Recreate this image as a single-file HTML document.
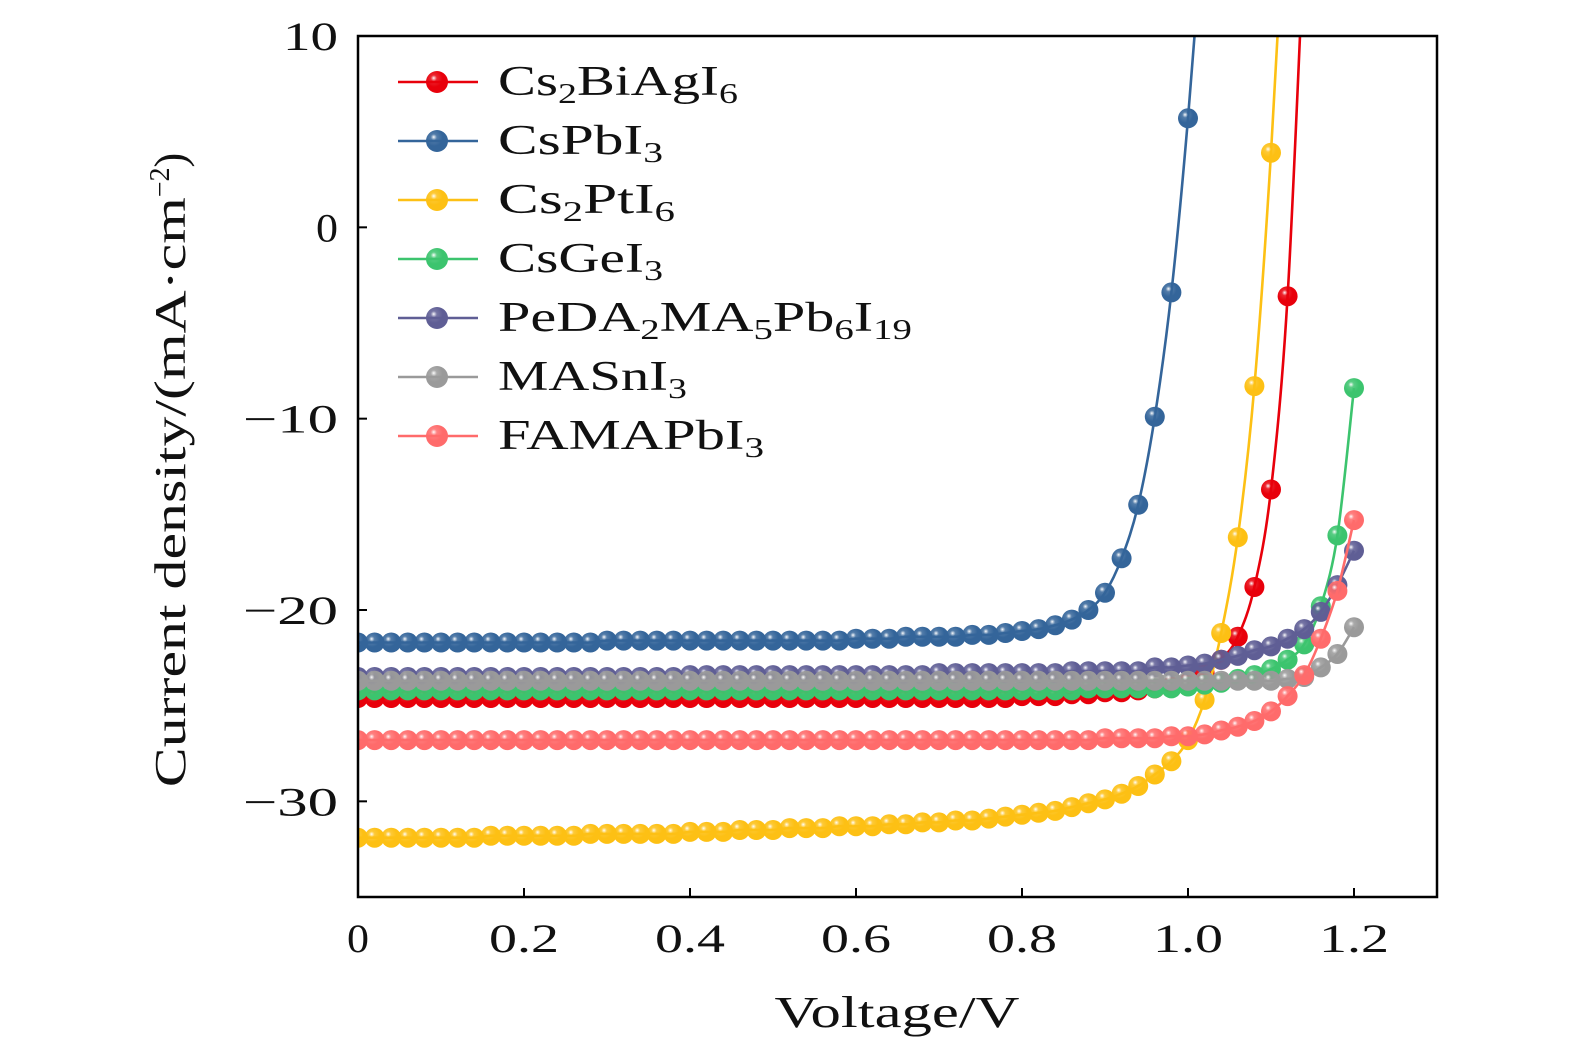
<!DOCTYPE html>
<html><head><meta charset="utf-8"><style>
html,body{margin:0;padding:0;background:#fff;overflow:hidden;}
svg{display:block;}
svg text{font-family:"Liberation Serif",serif;fill:#111;}
</style></head><body>
<svg id="chart" width="1575" height="1053" viewBox="0 0 1575 1053" xmlns="http://www.w3.org/2000/svg">
<defs>
<clipPath id="plotclip"><rect x="358" y="36" width="1079" height="861"/></clipPath>
</defs>
<g id="series" clip-path="url(#plotclip)"></g>
<g id="axes"></g>
<g id="legend"></g>
</svg>
<script>
const voltages = [];
for (let i = 0; i <= 60; i++) voltages.push(+(i*0.02).toFixed(2));
const seriesNames = ["Cs2BiAgI6","CsPbI3","Cs2PtI6","CsGeI3","PeDA2MA5Pb6I19","MASnI3","FAMAPbI3"];
const cs2biagi6 = [-24.6,-24.6,-24.6,-24.6,-24.6,-24.6,-24.6,-24.6,-24.6,-24.6,-24.6,-24.6,-24.6,-24.6,-24.6,-24.6,-24.6,-24.6,-24.6,-24.6,-24.6,-24.6,-24.6,-24.6,-24.6,-24.6,-24.6,-24.6,-24.6,-24.6,-24.6,-24.6,-24.6,-24.6,-24.6,-24.6,-24.6,-24.6,-24.6,-24.6,-24.5,-24.5,-24.5,-24.4,-24.4,-24.3,-24.3,-24.2,-24.1,-24.0,-23.8,-23.3,-22.6,-21.4,-18.8,-13.7,-3.6,15,null,null,null];
const cspbi3 = [-21.7,-21.7,-21.7,-21.7,-21.7,-21.7,-21.7,-21.7,-21.7,-21.7,-21.7,-21.7,-21.7,-21.7,-21.7,-21.6,-21.6,-21.6,-21.6,-21.6,-21.6,-21.6,-21.6,-21.6,-21.6,-21.6,-21.6,-21.6,-21.6,-21.6,-21.5,-21.5,-21.5,-21.4,-21.4,-21.4,-21.4,-21.3,-21.3,-21.2,-21.1,-21.0,-20.8,-20.5,-20.0,-19.1,-17.3,-14.5,-9.9,-3.4,5.7,17,null,null,null,null,null,null,null,null,null];
const cs2pti6 = [-31.9,-31.9,-31.9,-31.9,-31.9,-31.9,-31.9,-31.9,-31.8,-31.8,-31.8,-31.8,-31.8,-31.8,-31.7,-31.7,-31.7,-31.7,-31.7,-31.7,-31.6,-31.6,-31.6,-31.5,-31.5,-31.5,-31.4,-31.4,-31.4,-31.3,-31.3,-31.3,-31.2,-31.2,-31.1,-31.1,-31.0,-31.0,-30.9,-30.8,-30.7,-30.6,-30.5,-30.3,-30.1,-29.9,-29.6,-29.2,-28.6,-27.9,-26.8,-24.7,-21.2,-16.2,-8.3,3.9,20,null,null,null,null];
const csgei3 = [-24.2,-24.2,-24.2,-24.2,-24.2,-24.2,-24.2,-24.2,-24.2,-24.2,-24.2,-24.2,-24.2,-24.2,-24.2,-24.2,-24.2,-24.2,-24.2,-24.2,-24.2,-24.2,-24.2,-24.2,-24.2,-24.2,-24.2,-24.2,-24.2,-24.2,-24.2,-24.2,-24.2,-24.2,-24.2,-24.2,-24.2,-24.2,-24.2,-24.2,-24.2,-24.2,-24.2,-24.2,-24.1,-24.1,-24.1,-24.1,-24.1,-24.1,-24.0,-23.9,-23.8,-23.6,-23.4,-23.1,-22.6,-21.8,-19.8,-16.1,-8.4];
const peda = [-23.5,-23.5,-23.5,-23.5,-23.5,-23.5,-23.5,-23.5,-23.5,-23.5,-23.5,-23.5,-23.5,-23.5,-23.5,-23.5,-23.5,-23.5,-23.5,-23.5,-23.4,-23.4,-23.4,-23.4,-23.4,-23.4,-23.4,-23.4,-23.4,-23.4,-23.4,-23.4,-23.4,-23.4,-23.4,-23.3,-23.3,-23.3,-23.3,-23.3,-23.3,-23.3,-23.3,-23.2,-23.2,-23.2,-23.2,-23.2,-23.0,-23.0,-22.9,-22.8,-22.6,-22.4,-22.1,-21.9,-21.5,-21.0,-20.1,-18.7,-16.9];
const masni3 = [-23.7,-23.7,-23.7,-23.7,-23.7,-23.7,-23.7,-23.7,-23.7,-23.7,-23.7,-23.7,-23.7,-23.7,-23.7,-23.7,-23.7,-23.7,-23.7,-23.7,-23.7,-23.7,-23.7,-23.7,-23.7,-23.7,-23.7,-23.7,-23.7,-23.7,-23.7,-23.7,-23.7,-23.7,-23.7,-23.7,-23.7,-23.7,-23.7,-23.7,-23.7,-23.7,-23.7,-23.7,-23.7,-23.7,-23.7,-23.7,-23.7,-23.7,-23.7,-23.7,-23.7,-23.7,-23.7,-23.7,-23.6,-23.5,-23.0,-22.3,-20.9];
const famapbi3 = [-26.8,-26.8,-26.8,-26.8,-26.8,-26.8,-26.8,-26.8,-26.8,-26.8,-26.8,-26.8,-26.8,-26.8,-26.8,-26.8,-26.8,-26.8,-26.8,-26.8,-26.8,-26.8,-26.8,-26.8,-26.8,-26.8,-26.8,-26.8,-26.8,-26.8,-26.8,-26.8,-26.8,-26.8,-26.8,-26.8,-26.8,-26.8,-26.8,-26.8,-26.8,-26.8,-26.8,-26.8,-26.8,-26.7,-26.7,-26.7,-26.7,-26.6,-26.6,-26.5,-26.3,-26.1,-25.8,-25.3,-24.5,-23.4,-21.5,-19.0,-15.3];
const xTickValues = [0,0.2,0.4,0.6,0.8,1.0,1.2];
const xTickLabels = ["0","0.2","0.4","0.6","0.8","1.0","1.2"];
const yTickValues = [10,0,-10,-20,-30];
const yTickLabels = ["10","0","\u221210","\u221220","\u221230"];

const NS="http://www.w3.org/2000/svg";
const X0=358,X1=1437,Y0=36,Y1=897, xmin=0,xmax=1.3,ymin=-35,ymax=10;
const xs=v=>X0+(v-xmin)/(xmax-xmin)*(X1-X0);
const ys=v=>Y1-(v-ymin)/(ymax-ymin)*(Y1-Y0);
function mk(tag,attrs,parent){const e=document.createElementNS(NS,tag);for(const k in attrs)e.setAttribute(k,attrs[k]);parent.appendChild(e);return e;}
const defs=document.querySelector('defs');
const colors=["#e8000b","#34659a","#fdc014","#3cc46e","#5f5e95","#9a9a9a","#ff6b6b"];
const dataSets=[cs2biagi6,cspbi3,cs2pti6,csgei3,peda,masni3,famapbi3];
colors.forEach((c,i)=>{
  const g=mk('radialGradient',{id:'grad'+i,cx:'0.38',cy:'0.35',r:'0.65',fx:'0.35',fy:'0.32'},defs);
  mk('stop',{offset:'0','stop-color':'#ffffff'},g);
  mk('stop',{offset:'0.22','stop-color':c,'stop-opacity':'0.85'},g);
  mk('stop',{offset:'0.6','stop-color':c},g);
  mk('stop',{offset:'1','stop-color':c},g);
});
function smoothPath(pts){
  let d='M'+pts[0][0]+','+pts[0][1];
  for(let i=0;i<pts.length-1;i++){
    const p0=pts[Math.max(0,i-1)],p1=pts[i],p2=pts[i+1],p3=pts[Math.min(pts.length-1,i+2)];
    const c1x=p1[0]+(p2[0]-p0[0])/6,c1y=p1[1]+(p2[1]-p0[1])/6;
    const c2x=p2[0]-(p3[0]-p1[0])/6,c2y=p2[1]-(p3[1]-p1[1])/6;
    d+=' C'+c1x.toFixed(1)+','+c1y.toFixed(1)+' '+c2x.toFixed(1)+','+c2y.toFixed(1)+' '+p2[0].toFixed(1)+','+p2[1].toFixed(1);
  }
  return d;
}
const sg=document.getElementById('series');
dataSets.forEach((arr,si)=>{
  const grp=mk('g',{},sg);
  
  
  const pts=[];
  arr.forEach((v,i)=>{if(v!==null)pts.push([xs(voltages[i]),ys(v)]);});
  const line=mk('path',{d:smoothPath(pts),fill:'none',stroke:colors[si],'stroke-width':2.6},grp);
  
  
  arr.forEach((v,i)=>{
    if(v===null)return;
    const c=mk('circle',{cx:xs(voltages[i]).toFixed(1),cy:ys(v).toFixed(1),r:10,fill:'url(#grad'+si+')'},grp);
    
    
  });
});
const ax=document.getElementById('axes');
const frame=mk('rect',{x:X0,y:Y0,width:X1-X0,height:Y1-Y0,fill:'none',stroke:'#000','stroke-width':2.5},ax);


xTickValues.forEach((v,i)=>{
  const x=xs(v);
  const t=mk('line',{x1:x,y1:Y1,x2:x,y2:Y1-9,stroke:'#000','stroke-width':2},ax);
  
  
  const lab=xTickLabels[i];
  const l=mk('text',{x:x,y:952,'font-size':40,'text-anchor':'middle',textLength:lab.length>1?70:22,lengthAdjust:'spacingAndGlyphs'},ax);
  l.textContent=lab;
  
  
});
yTickValues.forEach((v,i)=>{
  const y=ys(v);
  const t=mk('line',{x1:X0,y1:y,x2:X0+9,y2:y,stroke:'#000','stroke-width':2},ax);
  
  
  const lab=yTickLabels[i];
  const w=lab.length===1?22:(lab.length===2?55:95);
  const l=mk('text',{x:338,y:y+14,'font-size':40,'text-anchor':'end',textLength:w,lengthAdjust:'spacingAndGlyphs'},ax);
  l.textContent=lab;
  
  
});
const xt=mk('text',{x:897,y:1027,'font-size':44,'text-anchor':'middle',textLength:245,lengthAdjust:'spacingAndGlyphs'},ax);
xt.textContent='Voltage/V';


const yt=mk('text',{x:0,y:0,'font-size':44,'text-anchor':'middle',transform:'translate(185,470) rotate(-90)'},ax);
yt.innerHTML='<tspan textLength="590" lengthAdjust="spacingAndGlyphs">Current density/(mA\u00b7cm</tspan><tspan font-size="28" dy="-16">\u22122</tspan><tspan dy="16">)</tspan>';


const legendLabels=[
 'Cs<tspan font-size="28" dy="8">2</tspan><tspan dy="-8">BiAgI</tspan><tspan font-size="28" dy="8">6</tspan>',
 'CsPbI<tspan font-size="28" dy="8">3</tspan>',
 'Cs<tspan font-size="28" dy="8">2</tspan><tspan dy="-8">PtI</tspan><tspan font-size="28" dy="8">6</tspan>',
 'CsGeI<tspan font-size="28" dy="8">3</tspan>',
 'PeDA<tspan font-size="28" dy="8">2</tspan><tspan dy="-8">MA</tspan><tspan font-size="28" dy="8">5</tspan><tspan dy="-8">Pb</tspan><tspan font-size="28" dy="8">6</tspan><tspan dy="-8">I</tspan><tspan font-size="28" dy="8">19</tspan>',
 'MASnI<tspan font-size="28" dy="8">3</tspan>',
 'FAMAPbI<tspan font-size="28" dy="8">3</tspan>'];
const legendWidths=[240,165,177,165,414,189,266];
const lg=document.getElementById('legend');
legendLabels.forEach((lab,i)=>{
  const y=82+i*59;
  const g=mk('g',{},lg);
  
  
  mk('line',{x1:398,y1:y,x2:478,y2:y,stroke:colors[i],'stroke-width':2.6},g);
  mk('circle',{cx:437,cy:y,r:11,fill:'url(#grad'+i+')'},g);
  const t=mk('text',{x:498,y:y+13,'font-size':42},g);
  t.innerHTML=lab;
  const natural=t.getComputedTextLength();
  if(natural>0){
    const s=legendWidths[i]/natural;
    t.setAttribute('transform','translate(498,0) scale('+s.toFixed(3)+',1) translate(-498,0)');
  }
});
</script>
</body></html>
